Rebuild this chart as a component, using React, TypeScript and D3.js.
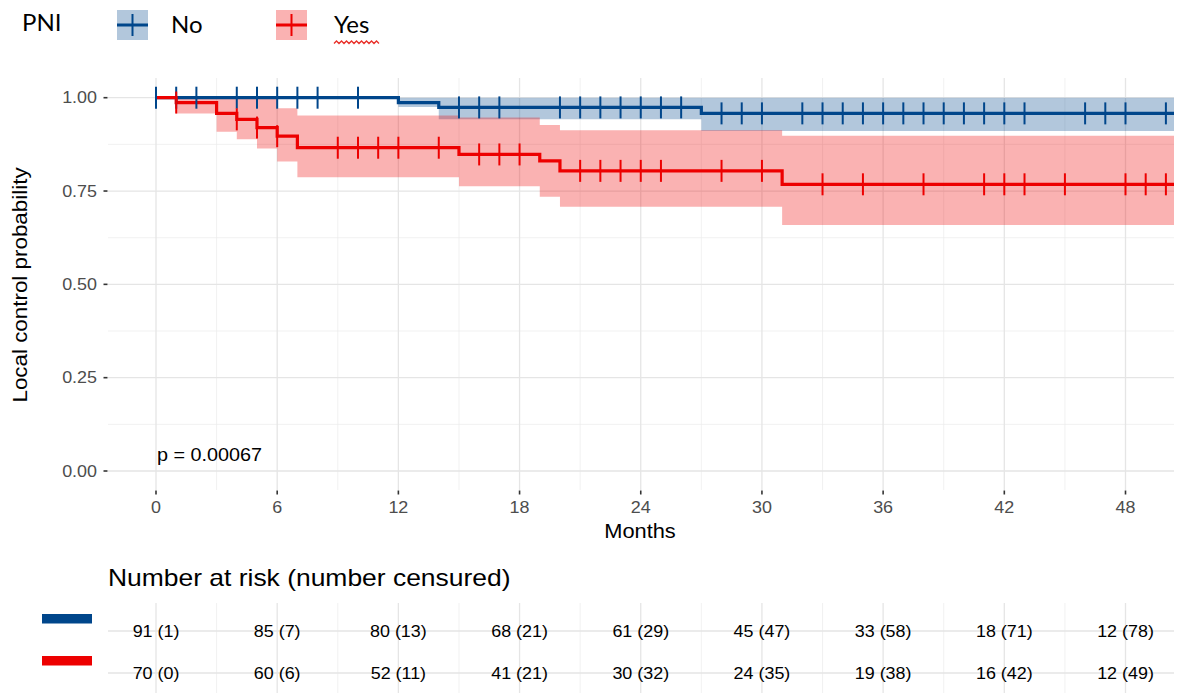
import React from "react";
import * as d3 from "d3";

// ---------- data ----------
const groups = ["No", "Yes"];
const colors = ["#00468B", "#ED0000"];

// Kaplan-Meier steps, group "No"
const noTimes = [0, 12, 14, 27];
const noSurv = [1, 0.987, 0.974, 0.958];
const noUpper = [1, 1, 1, 1];
const noLower = [1, 0.975, 0.942, 0.911];
const noCensor = [0, 1, 2, 4, 5, 6, 7, 8, 10, 15, 16, 17, 20, 21, 22, 23, 24, 25, 26, 28, 29, 30, 32, 33, 34, 35, 36, 37, 38, 39, 40, 41, 42, 43, 46, 47, 48, 50];

// Kaplan-Meier steps, group "Yes"
const yesTimes = [0, 1, 3, 4, 5, 6, 7, 15, 19, 20, 31];
const yesSurv = [1, 0.987, 0.958, 0.942, 0.92, 0.897, 0.866, 0.848, 0.831, 0.804, 0.768];
const yesUpper = [1, 1, 1, 1, 1, 0.972, 0.952, 0.947, 0.927, 0.913, 0.898];
const yesLower = [1, 0.958, 0.909, 0.889, 0.864, 0.829, 0.787, 0.763, 0.735, 0.708, 0.659];
const yesCensor = [1, 4, 5, 6, 9, 10, 11, 12, 14, 16, 17, 18, 21, 22, 23, 24, 25, 28, 30, 33, 35, 38, 41, 42, 43, 45, 48, 49, 50];

const lastTime = 53;

const xTicks = [0, 6, 12, 18, 24, 30, 36, 42, 48];
const xMinor = [3, 9, 15, 21, 27, 33, 39, 45];
const yTicks = [0, 0.25, 0.5, 0.75, 1];
const yMinor = [0.125, 0.375, 0.625, 0.875];

const riskNoN = [91, 85, 80, 68, 61, 45, 33, 18, 12];
const riskNoC = [1, 7, 13, 21, 29, 47, 58, 71, 78];
const riskYesN = [70, 60, 52, 41, 30, 24, 19, 16, 12];
const riskYesC = [0, 6, 11, 21, 32, 35, 38, 42, 49];

const pValue = "p = 0.00067";

// ---------- layout ----------
const W = 1187, H = 693;
const panel = { left: 108, right: 1174, top: 78, bottom: 490 };
const x = d3.scaleLinear().domain([0, 48]).range([156, 1125.5]);
const y = d3.scaleLinear().domain([0, 1]).range([471, 97.7]);
const SX = 1.12;
const FONT = "'Liberation Sans', Arial, sans-serif";

type TProps = {
  x: number; y: number; size: number; anchor?: string; fill?: string;
  rotate?: number; sx?: number; family?: string; children: React.ReactNode;
};
function T({ x, y, size, anchor = "start", fill = "#000", rotate, sx = SX, family = FONT, children }: TProps) {
  const tr = `translate(${x},${y})${rotate ? ` rotate(${rotate})` : ""} scale(${sx},1)`;
  return (
    <text transform={tr} fontSize={size} textAnchor={anchor as any} fill={fill} fontFamily={family}>
      {children}
    </text>
  );
}

function makeSeries(times: number[], vals: number[]) {
  const pts = times.map((t, i) => [t, vals[i]] as [number, number]);
  pts.push([lastTime, vals[vals.length - 1]]);
  return pts;
}

function stepAt(times: number[], vals: number[], t: number) {
  let v = vals[0];
  for (let i = 0; i < times.length; i++) if (times[i] <= t) v = vals[i];
  return v;
}

export default function App() {
  const line = d3.line<[number, number]>().x(d => x(d[0])).y(d => y(d[1])).curve(d3.curveStepAfter);
  const area = d3.area<[number, number, number]>()
    .x(d => x(d[0])).y0(d => y(d[1])).y1(d => y(d[2])).curve(d3.curveStepAfter);

  const band = (times: number[], lo: number[], up: number[]) => {
    const pts = times.map((t, i) => [t, lo[i], up[i]] as [number, number, number]);
    pts.push([lastTime, lo[lo.length - 1], up[up.length - 1]]);
    return area(pts) || "";
  };

  const series = [
    { times: noTimes, surv: noSurv, lo: noLower, up: noUpper, cens: noCensor, color: colors[0] },
    { times: yesTimes, surv: yesSurv, lo: yesLower, up: yesUpper, cens: yesCensor, color: colors[1] },
  ];

  const risk = [
    { n: riskNoN, c: riskNoC, color: colors[0], y: 631 },
    { n: riskYesN, c: riskYesC, color: colors[1], y: 673 },
  ];

  return (
    <svg width={W} height={H} style={{ position: "absolute", left: 0, top: 0, background: "#fff" }}>
      <defs>
        <clipPath id="panel">
          <rect x={panel.left} y={panel.top} width={panel.right - panel.left} height={panel.bottom - panel.top} />
        </clipPath>
        <clipPath id="table">
          <rect x={panel.left} y={600} width={panel.right - panel.left} height={93} />
        </clipPath>
      </defs>
      <rect width={W} height={H} fill="#fff" />

      {/* legend */}
      <T x={22} y={31} size={24} sx={1} family="Lato, 'Open Sans', sans-serif">PNI</T>
      {groups.map((g, i) => {
        const kx = i === 0 ? 117 : 276;
        const lx = i === 0 ? 171 : 334;
        return (
          <g key={g}>
            <rect x={kx} y={10} width={31} height={30} fill={colors[i]} fillOpacity={0.3} />
            <line x1={kx} x2={kx + 31} y1={25} y2={25} stroke={colors[i]} strokeWidth={3} />
            <line x1={kx + 15.5} x2={kx + 15.5} y1={14} y2={36} stroke={colors[i]} strokeWidth={2} />
            <T x={lx} y={33} size={24} sx={1} family="Lato, 'Open Sans', sans-serif">{g}</T>
          </g>
        );
      })}
      <path
        d={d3.range(0, 46, 2.5).map((d, i) => `${i === 0 ? "M" : "L"}${334 + d},${i % 2 ? 41 : 43.5}`).join(" ")}
        fill="none" stroke="#E8302A" strokeWidth={1.3}
      />

      {/* grid */}
      <g clipPath="url(#panel)">
        {yMinor.map(v => (
          <line key={"ym" + v} x1={panel.left} x2={panel.right} y1={y(v)} y2={y(v)} stroke="#EBEBEB" strokeWidth={0.7} />
        ))}
        {xMinor.map(v => (
          <line key={"xm" + v} x1={x(v)} x2={x(v)} y1={panel.top} y2={panel.bottom} stroke="#EBEBEB" strokeWidth={0.7} />
        ))}
        {yTicks.map(v => (
          <line key={"yM" + v} x1={panel.left} x2={panel.right} y1={y(v)} y2={y(v)} stroke="#E5E5E5" strokeWidth={1.3} />
        ))}
        {xTicks.map(v => (
          <line key={"xM" + v} x1={x(v)} x2={x(v)} y1={panel.top} y2={panel.bottom} stroke="#E5E5E5" strokeWidth={1.3} />
        ))}
      </g>

      {/* curves */}
      <g clipPath="url(#panel)">
        {series.map((s, i) => (
          <path key={"b" + i} d={band(s.times, s.lo, s.up)} fill={s.color} fillOpacity={0.3} />
        ))}
        {series.map((s, i) => (
          <path key={"l" + i} d={line(makeSeries(s.times, s.surv)) || ""} fill="none" stroke={s.color} strokeWidth={3.2} />
        ))}
        {series.map((s, i) =>
          s.cens.map(t => {
            const v = stepAt(s.times, s.surv, t);
            return (
              <line key={"c" + i + "-" + t} x1={x(t)} x2={x(t)} y1={y(v) - 11} y2={y(v) + 11} stroke={s.color} strokeWidth={2} />
            );
          })
        )}
      </g>

      {/* axes */}
      {yTicks.map(v => (
        <g key={"yt" + v}>
          <line x1={103.5} x2={107.5} y1={y(v)} y2={y(v)} stroke="#333" strokeWidth={1.6} />
          <T x={97} y={y(v) + 5.7} size={16} anchor="end" fill="#4D4D4D">{v.toFixed(2)}</T>
        </g>
      ))}
      {xTicks.map(v => (
        <g key={"xt" + v}>
          <line x1={x(v)} x2={x(v)} y1={490.5} y2={494.5} stroke="#333" strokeWidth={1.6} />
          <T x={x(v)} y={513} size={16} anchor="middle" fill="#4D4D4D">{v}</T>
        </g>
      ))}
      <T x={640} y={538} size={19.5} anchor="middle">Months</T>
      <T x={27} y={285} size={20} anchor="middle" rotate={-90}>Local control probability</T>
      <T x={157} y={461} size={18} sx={1.1}>{pValue}</T>

      {/* risk table */}
      <T x={108} y={586} size={23} sx={1.15}>Number at risk (number censured)</T>
      <g clipPath="url(#table)">
        {xMinor.map(v => (
          <line key={"txm" + v} x1={x(v)} x2={x(v)} y1={603} y2={H} stroke="#EBEBEB" strokeWidth={0.7} />
        ))}
        {xTicks.map(v => (
          <line key={"txM" + v} x1={x(v)} x2={x(v)} y1={603} y2={H} stroke="#E5E5E5" strokeWidth={1.3} />
        ))}
        {risk.map((r, i) => (
          <line key={"th" + i} x1={panel.left} x2={panel.right} y1={r.y} y2={r.y} stroke="#E5E5E5" strokeWidth={1.3} />
        ))}
      </g>
      {risk.map((r, i) => (
        <g key={"r" + i}>
          <rect x={42} y={r.y - 17} width={50} height={9.5} fill={r.color} />
          {xTicks.map((t, j) => (
            <T key={t} x={x(t)} y={r.y + 5.8} size={16} anchor="middle">{`${r.n[j]} (${r.c[j]})`}</T>
          ))}
        </g>
      ))}
    </svg>
  );
}
